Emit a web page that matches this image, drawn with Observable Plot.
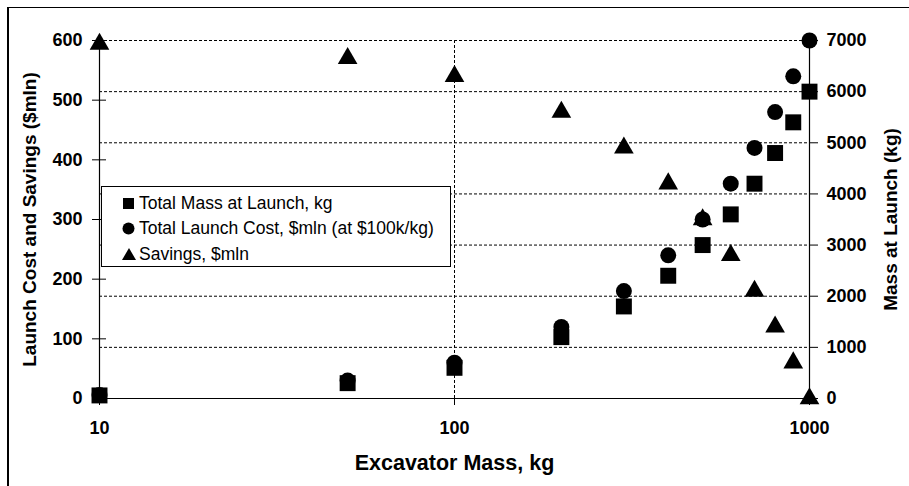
<!DOCTYPE html>
<html><head><meta charset="utf-8">
<script src="https://cdn.jsdelivr.net/npm/d3@7"></script>
<script src="https://cdn.jsdelivr.net/npm/@observablehq/plot@0.6"></script>
<style>
body{margin:0;background:#fff;}
#wrap{position:relative;width:909px;height:486px;overflow:hidden;font-family:"Liberation Sans",Arial,sans-serif;}
#frame{position:absolute;left:7px;top:7px;width:1000px;height:600px;border-top:1px solid #000;border-left:2px solid #000;}
#chart{position:absolute;left:0;top:0;}
#legend{position:absolute;left:101px;top:186px;width:350px;height:81px;border:1px solid #000;background:#fff;box-sizing:border-box;}
.row{position:absolute;left:0;height:22px;line-height:22px;font-size:17.5px;color:#000;white-space:nowrap;}
.row svg{position:absolute;left:19px;top:4px;}
.row span{position:absolute;left:37px;top:0;}
</style>
</head><body>
<div id="wrap"><div id="frame"></div><div id="chart"></div><div id="legend"></div></div>
<script>
const excavatorMass = [10, 50, 100, 200, 300, 400, 500, 600, 700, 800, 900, 1000];
const totalMassAtLaunch = [60, 300, 600, 1200, 1800, 2400, 3000, 3600, 4200, 4800, 5400, 6000];
const totalLaunchCost = [6, 30, 60, 120, 180, 240, 300, 360, 420, 480, 540, 600];
const savings = [594, 570, 540, 480, 420, 360, 300, 240, 180, 120, 60, 0];
const leftTicks = [0, 100, 200, 300, 400, 500, 600];
const rightTicks = [0, 1000, 2000, 3000, 4000, 5000, 6000, 7000];
const xTicks = [10, 100, 1000];
const seriesNames = ["Total Mass at Launch, kg", "Total Launch Cost, $mln (at $100k/kg)", "Savings, $mln"];
const leftTitle = "Launch Cost and Savings ($mln)";
const rightTitle = "Mass at Launch (kg)";
const xTitle = "Excavator Mass, kg";

const k = 600 / 7000; // right axis (kg) -> left axis ($mln)
const rows = excavatorMass.map((x, i) => ({x, mass: totalMassAtLaunch[i], cost: totalLaunchCost[i], sav: savings[i]}));

const chart = Plot.plot({
  width: 909, height: 486,
  marginLeft: 99, marginRight: 100, marginTop: 40, marginBottom: 88,
  style: {fontFamily: "'Liberation Sans', Arial, sans-serif", fontWeight: "bold", fontSize: "18px", color: "#000", background: "transparent", overflow: "visible"},
  x: {type: "log", domain: [10, 1000]},
  y: {domain: [0, 600]},
  marks: [
    Plot.gridY(rightTicks.filter(d => d > 0), {y: d => d * k, stroke: "#000", strokeOpacity: 1, strokeDasharray: "3,2"}),
    Plot.gridX([100], {stroke: "#000", strokeOpacity: 1, strokeDasharray: "3,2"}),
    Plot.ruleY([0], {stroke: "#000", strokeWidth: 1.2}),
    Plot.ruleX([10, 1000], {stroke: "#000", strokeWidth: 1.2}),
    Plot.axisY(leftTicks, {anchor: "left", tickSize: 14, dx: 7, tickPadding: 10, label: null, fontSize: 18, fontWeight: "bold"}),
    Plot.axisY(rightTicks, {anchor: "right", y: d => d * k, tickSize: 8, tickPadding: 9, tickFormat: d => String(d), label: null, fontSize: 18, fontWeight: "bold"}),
    Plot.axisX(xTicks, {anchor: "bottom", tickSize: 7, tickPadding: 16, tickFormat: d => String(d), label: null, fontSize: 18, fontWeight: "bold"}),
    Plot.text([leftTitle], {text: d => d, frameAnchor: "left", textAnchor: "middle", rotate: -90, dx: -70, fontSize: 19, fontWeight: "bold"}),
    Plot.text([rightTitle], {text: d => d, frameAnchor: "right", textAnchor: "middle", rotate: -90, dx: 81, fontSize: 19, fontWeight: "bold"}),
    Plot.text([xTitle], {text: d => d, frameAnchor: "bottom", dy: 71, fontSize: 21.5, fontWeight: "bold"}),
    Plot.dot(rows, {x: "x", y: d => d.mass * k, symbol: "square", r: 9, fill: "#000", stroke: "none"}),
    Plot.dot(rows, {x: "x", y: "cost", symbol: "circle", r: 8, fill: "#000", stroke: "none"}),
    Plot.dot(rows, {x: "x", y: "sav", symbol: "triangle", r: 7.3, fill: "#000", stroke: "none"})
  ]
});
document.getElementById("chart").appendChild(chart);

const markers = [
  '<svg width="14" height="14"><rect x="2" y="2" width="11" height="11" fill="#000"/></svg>',
  '<svg width="14" height="14"><circle cx="7.5" cy="7.5" r="6" fill="#000"/></svg>',
  '<svg width="16" height="14"><path d="M1,13 L15,13 L8,1 Z" fill="#000"/></svg>'
];
const legend = document.getElementById("legend");
const tops = [5, 30, 56];
seriesNames.forEach((name, i) => {
  const r = document.createElement("div");
  r.className = "row";
  r.style.top = tops[i] + "px";
  r.innerHTML = markers[i] + "<span></span>";
  r.querySelector("span").textContent = name;
  legend.appendChild(r);
});
</script>
</body></html>
